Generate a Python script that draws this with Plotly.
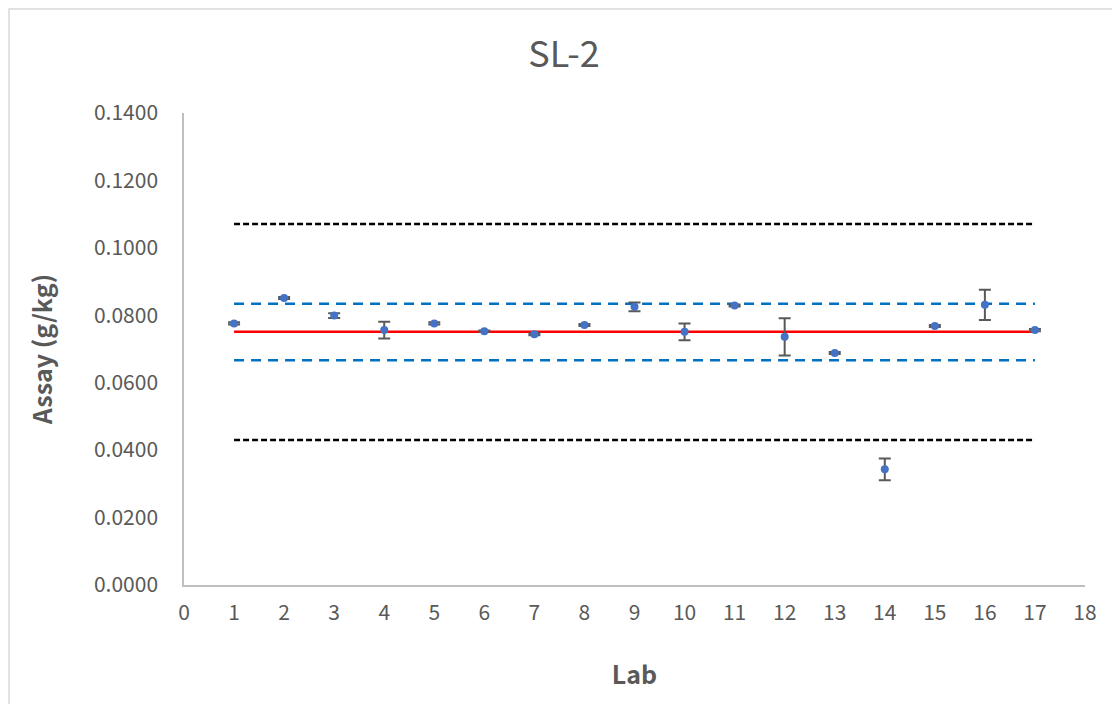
import plotly.graph_objects as go

labs = list(range(1, 18))
assay = [0.0776, 0.0851, 0.0799, 0.0756, 0.0776, 0.0753, 0.0744, 0.0771, 0.0825,
         0.0751, 0.0829, 0.0736, 0.0688, 0.0343, 0.0768, 0.0831, 0.0756]
err = [0.0003, 0.0003, 0.0007, 0.0025, 0.0003, 0.0002, 0.0003, 0.0003, 0.0013,
       0.0025, 0.0003, 0.0055, 0.0003, 0.0032, 0.0003, 0.0045, 0.0003]
mean_val = [0.0751] * 17
upper_warn = [0.0834] * 17
lower_warn = [0.0667] * 17
upper_limit = [0.1071] * 17
lower_limit = [0.0430] * 17

font = "Noto Sans CJK SC"
grey = "#595959"

fig = go.Figure()
fig.add_trace(go.Scatter(x=labs, y=upper_limit, mode="lines",
                         line=dict(color="#000000", width=2.5, dash="6px,3px"), showlegend=False))
fig.add_trace(go.Scatter(x=labs, y=lower_limit, mode="lines",
                         line=dict(color="#000000", width=2.5, dash="6px,3px"), showlegend=False))
fig.add_trace(go.Scatter(x=labs, y=upper_warn, mode="lines",
                         line=dict(color="#0070C0", width=2.5, dash="10px,7px"), showlegend=False))
fig.add_trace(go.Scatter(x=labs, y=lower_warn, mode="lines",
                         line=dict(color="#0070C0", width=2.5, dash="10px,7px"), showlegend=False))
fig.add_trace(go.Scatter(x=labs, y=mean_val, mode="lines",
                         line=dict(color="#FF0000", width=2.5), showlegend=False))
fig.add_trace(go.Scatter(x=labs, y=assay, mode="markers",
                         marker=dict(color="#4472C4", size=8),
                         error_y=dict(type="data", array=err, visible=True,
                                      color=grey, thickness=2, width=6),
                         showlegend=False))

fig.update_layout(
    width=1112, height=696,
    margin=dict(l=176, r=35, t=105, b=119),
    paper_bgcolor="white", plot_bgcolor="white",
    font=dict(family=font, color=grey, size=21),
    title=dict(text="SL-2", x=0.5, xanchor="center", y=0.933, yanchor="middle",
               font=dict(size=36, color=grey, family=font)),
    xaxis=dict(range=[0, 18], tickmode="linear", tick0=0, dtick=1,
               showgrid=False, zeroline=False, showline=True, linecolor="#BFBFBF",
               linewidth=1.5, ticks="", tickfont=dict(size=21, color=grey),
               ticklabelstandoff=8,
               title=dict(text="<b>Lab</b>", font=dict(size=25, color=grey), standoff=42)),
    yaxis=dict(range=[0, 0.14], tickmode="linear", tick0=0, dtick=0.02, tickformat=".4f",
               showgrid=False, zeroline=False, showline=True, linecolor="#BFBFBF",
               linewidth=1.5, ticks="", tickfont=dict(size=21, color=grey),
               ticklabelstandoff=20,
               title=dict(text="<b>Assay (g/kg)</b>", font=dict(size=25, color=grey), standoff=34)),
    shapes=[dict(type="rect", xref="paper", yref="paper",
                 x0=-0.1942, x1=1.2, y0=-0.3, y1=1.2203,
                 line=dict(color="#D9D9D9", width=1.5), fillcolor="rgba(0,0,0,0)", layer="below")],
)

fig.write_html("out.html")
